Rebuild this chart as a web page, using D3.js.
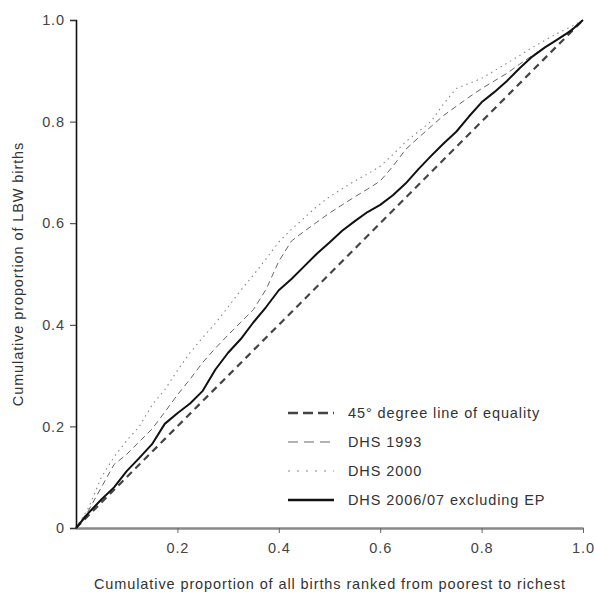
<!DOCTYPE html>
<html>
<head>
<meta charset="utf-8">
<script src="https://cdn.jsdelivr.net/npm/d3@7"></script>
<style>
  body { margin: 0; background: #fff; }
  svg { font-family: "Liberation Sans", Arial, sans-serif; }
</style>
</head>
<body>
<svg id="chart" width="594" height="592"></svg>
<script>
// cumulative proportion of births (poorest -> richest)
var xs = [0, 0.025, 0.05, 0.075, 0.1, 0.125, 0.15, 0.175, 0.2, 0.225,
          0.25, 0.275, 0.3, 0.325, 0.35, 0.375, 0.4, 0.425, 0.45, 0.475,
          0.5, 0.525, 0.55, 0.575, 0.6, 0.625, 0.65, 0.675, 0.7, 0.725,
          0.75, 0.775, 0.8, 0.825, 0.85, 0.875, 0.9, 0.925, 0.95, 0.975, 1];

var dhs1993 = [0, 0.035, 0.08, 0.125, 0.145, 0.17, 0.195, 0.228, 0.262, 0.293,
               0.326, 0.354, 0.38, 0.405, 0.43, 0.47, 0.525, 0.565, 0.584, 0.602,
               0.62, 0.636, 0.652, 0.667, 0.683, 0.712, 0.745, 0.768, 0.79, 0.812,
               0.83, 0.848, 0.865, 0.88, 0.895, 0.913, 0.93, 0.946, 0.962, 0.98, 1];

var dhs2000 = [0, 0.04, 0.1, 0.14, 0.172, 0.2, 0.242, 0.272, 0.31, 0.345,
               0.375, 0.403, 0.435, 0.468, 0.498, 0.53, 0.563, 0.588, 0.61, 0.633,
               0.652, 0.668, 0.683, 0.697, 0.712, 0.735, 0.76, 0.78, 0.8, 0.835,
               0.865, 0.875, 0.885, 0.9, 0.915, 0.93, 0.946, 0.96, 0.974, 0.986, 1];

var dhs2006 = [0, 0.03, 0.056, 0.08, 0.112, 0.138, 0.165, 0.205, 0.226, 0.245,
               0.27, 0.312, 0.345, 0.372, 0.405, 0.435, 0.468, 0.49, 0.515, 0.54,
               0.562, 0.585, 0.604, 0.622, 0.636, 0.655, 0.678, 0.706, 0.732, 0.757,
               0.78, 0.81, 0.838, 0.858, 0.88, 0.905, 0.928, 0.946, 0.962, 0.978, 1];

var equality = [0, 1];

var xTicks = [0.2, 0.4, 0.6, 0.8, 1.0];
var yTicks = [0, 0.2, 0.4, 0.6, 0.8, 1.0];

var legendLabels = ["45\u00b0 degree line of equality", "DHS 1993", "DHS 2000", "DHS 2006/07 excluding EP"];

var svg = d3.select("#chart");
var fontSize = 14.5, spacing = "0.9px";

var x = d3.scaleLinear().domain([0, 1]).range([76, 583]);
var y = d3.scaleLinear().domain([0, 1]).range([528, 20]);

var styles = [
    {stroke: "#444", width: 2.2, dash: "7,5"},
    {stroke: "#666", width: 1, dash: "6,4"},
    {stroke: "#888", width: 1.1, dash: "1.5,4"},
    {stroke: "#111", width: 2, dash: null}
];

// axes
var yAxis = svg.append("g")
    .attr("transform", "translate(76,0)")
    .call(d3.axisLeft(y).tickValues(yTicks).tickSize(6)
        .tickFormat(function(d) { return d === 0 ? "0" : d3.format(".1f")(d); }));
yAxis.select(".domain").attr("stroke", "#111").attr("stroke-width", 1.6);
yAxis.selectAll(".tick line").attr("stroke", "#333");
yAxis.selectAll(".tick text").attr("font-size", fontSize).attr("fill", "#444")
    .attr("letter-spacing", spacing)
    .attr("font-family", "Liberation Sans, Arial, sans-serif").attr("x", -11);

var xAxis = svg.append("g")
    .attr("transform", "translate(0,528)")
    .call(d3.axisBottom(x).tickValues(xTicks).tickSize(5).tickSizeOuter(0)
        .tickFormat(d3.format(".1f")));
xAxis.select(".domain").attr("stroke", "#888").attr("stroke-width", 2.4);
xAxis.selectAll(".tick line").attr("stroke", "#666");
xAxis.selectAll(".tick text").attr("font-size", fontSize).attr("fill", "#444")
    .attr("letter-spacing", spacing)
    .attr("font-family", "Liberation Sans, Arial, sans-serif")
    .attr("y", 25).attr("dy", 0);

// lines
var line = d3.line()
    .x(function(d) { return x(d[0]); })
    .y(function(d) { return y(d[1]); });

var series = [
    equality.map(function(v) { return [v, v]; }),
    xs.map(function(v, i) { return [v, dhs1993[i]]; }),
    xs.map(function(v, i) { return [v, dhs2000[i]]; }),
    xs.map(function(v, i) { return [v, dhs2006[i]]; })
];

series.forEach(function(s, i) {
    svg.append("path")
        .datum(s)
        .attr("fill", "none")
        .attr("stroke", styles[i].stroke)
        .attr("stroke-width", styles[i].width)
        .attr("stroke-dasharray", styles[i].dash)
        .attr("stroke-linejoin", "round")
        .attr("d", line);
});

// legend
var legend = svg.append("g").attr("transform", "translate(288,413)");
legendLabels.forEach(function(lab, i) {
    var row = legend.append("g").attr("transform", "translate(0," + (i * 29) + ")");
    row.append("line")
        .attr("x1", 0).attr("x2", 46).attr("y1", 0).attr("y2", 0)
        .attr("stroke", styles[i].stroke)
        .attr("stroke-width", i === 0 || i === 3 ? 2.6 : 1.2)
        .attr("stroke-dasharray", i === 0 ? "10,5" : i === 1 ? "10,6" : i === 2 ? "2,7" : null);
    row.append("text")
        .attr("x", 60).attr("y", 0).attr("dy", "0.35em")
        .attr("font-size", fontSize).attr("fill", "#333")
        .attr("letter-spacing", spacing)
        .text(lab);
});

// axis titles
svg.append("text")
    .attr("x", 330).attr("y", 589)
    .attr("text-anchor", "middle")
    .attr("font-size", fontSize).attr("fill", "#333")
    .attr("letter-spacing", spacing)
    .text("Cumulative proportion of all births ranked from poorest to richest");

svg.append("text")
    .attr("transform", "translate(23,274) rotate(-90)")
    .attr("text-anchor", "middle")
    .attr("font-size", fontSize).attr("fill", "#333")
    .attr("letter-spacing", spacing)
    .text("Cumulative proportion of LBW births");
</script>
</body>
</html>
